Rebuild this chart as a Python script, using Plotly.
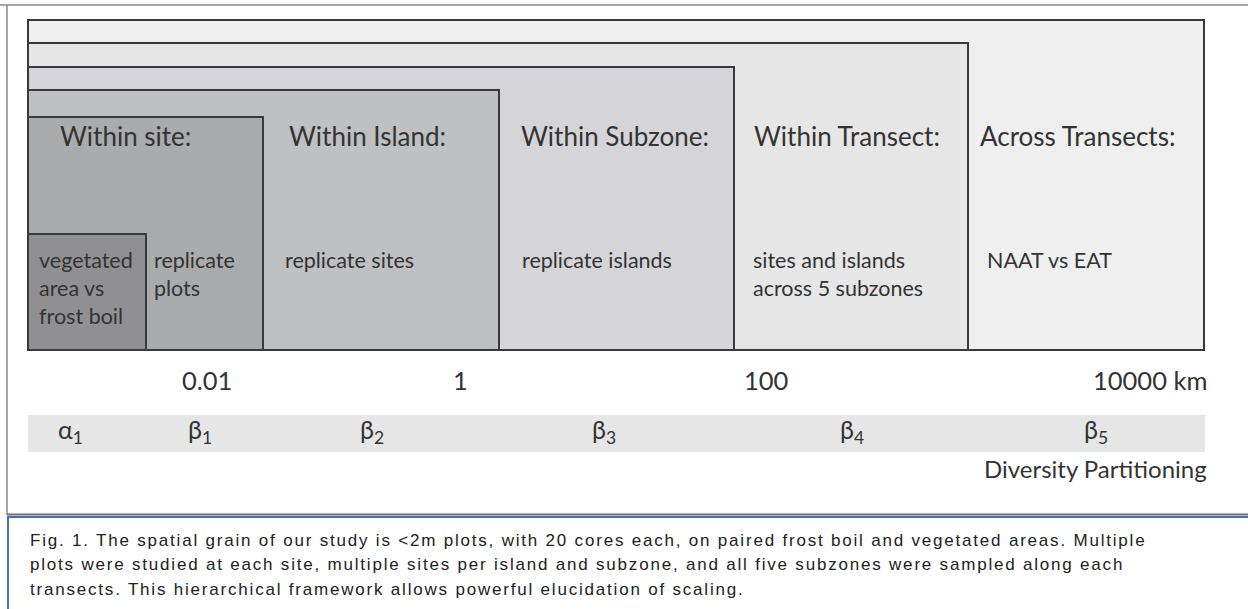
import plotly.graph_objects as go

# ---------------- data ----------------
level_titles = ["Within site:", "Within Island:", "Within Subzone:", "Within Transect:", "Across Transects:"]
level_descs = ["replicate<br>plots", "replicate sites", "replicate islands",
               "sites and islands<br>across 5 subzones", "NAAT vs EAT"]
inner_desc = "vegetated<br>area vs<br>frost boil"
scale_labels = ["0.01", "1", "100", "10000 km"]
partition_labels = ["α<sub>1</sub>", "β<sub>1</sub>", "β<sub>2</sub>", "β<sub>3</sub>", "β<sub>4</sub>", "β<sub>5</sub>"]
partition_title = "Diversity Partitioning"
caption_lines = [
    "Fig. 1. The spatial grain of our study is <2m plots, with 20 cores each, on paired frost boil and vegetated areas. Multiple",
    "plots were studied at each site, multiple sites per island and subzone, and all five subzones were sampled along each",
    "transects. This hierarchical framework allows powerful elucidation of scaling.",
]

# ---------------- layout geometry (diagram coordinates, pixels) ----------------
W, H = 1248, 609
box_left, box_bottom = 28, 350
# nested boxes from innermost (vegetated) to outermost (across transects)
box_right = [146, 263, 499, 734, 968, 1204]
box_top = [234, 117, 90, 67, 43, 20]
box_fill = ["#909092", "#a9abac", "#bfc0c2", "#d5d5d9", "#e6e6e6", "#efefef"]
title_x = [58, 287, 519, 752, 978]
desc_x = [152, 283, 520, 751, 985]
scale_x = [207, 460, 766, 1209]
part_x = [70, 200, 372, 604, 852, 1096]

FONT = "Lato"
TXT = "#333333"

fig = go.Figure()
shapes = []
annotations = []

# outer frame
shapes.append(dict(type="line", x0=0, x1=W, y0=5, y1=5, line=dict(color="#8a8a8a", width=1.5)))
shapes.append(dict(type="line", x0=7, x1=7, y0=5, y1=515, line=dict(color="#8a8a8a", width=1.5)))
shapes.append(dict(type="line", x0=7, x1=W, y0=514.5, y1=514.5, line=dict(color="#6f6f6f", width=2)))
shapes.append(dict(type="line", x0=7, x1=W, y0=517, y1=517, line=dict(color="#4a6cc0", width=2)))
shapes.append(dict(type="line", x0=8, x1=8, y0=517, y1=H, line=dict(color="#4a6cc0", width=2)))

# nested boxes, draw outermost first
for i in reversed(range(len(box_right))):
    shapes.append(dict(type="rect", x0=box_left, x1=box_right[i], y0=box_top[i], y1=box_bottom,
                       fillcolor=box_fill[i], line=dict(color="#3a3a3a", width=2), layer="above"))

# partition band
shapes.append(dict(type="rect", x0=box_left, x1=1205, y0=415, y1=452,
                   fillcolor="#e6e6e6", line=dict(width=0), layer="above"))

for t, x in zip(level_titles, title_x):
    annotations.append(dict(x=x, y=136, text=t, xanchor="left", yanchor="middle", showarrow=False,
                            font=dict(family=FONT, size=26, color=TXT)))
for t, x in zip(level_descs, desc_x):
    annotations.append(dict(x=x, y=245, text=t, xanchor="left", yanchor="top", showarrow=False, align="left",
                            font=dict(family=FONT, size=21.5, color=TXT)))
annotations.append(dict(x=37, y=245, text=inner_desc, xanchor="left", yanchor="top", showarrow=False, align="left",
                        font=dict(family=FONT, size=21.5, color=TXT)))

for i, (t, x) in enumerate(zip(scale_labels, scale_x)):
    annotations.append(dict(x=x, y=380, text=t, xanchor="right" if i == len(scale_labels) - 1 else "center",
                            yanchor="middle", showarrow=False, font=dict(family=FONT, size=25.5, color=TXT)))

for t, x in zip(partition_labels, part_x):
    annotations.append(dict(x=x, y=431, text=t, xanchor="center", yanchor="middle", showarrow=False,
                            font=dict(family=FONT, size=25, color=TXT)))
annotations.append(dict(x=1209, y=468, text=partition_title, xanchor="right", yanchor="middle", showarrow=False,
                        font=dict(family=FONT, size=24, color=TXT)))

for k, line in enumerate(caption_lines):
    annotations.append(dict(x=28, y=540 + 24.5 * k, text=line, xanchor="left", yanchor="middle", showarrow=False,
                            align="left", font=dict(family="Liberation Sans", size=17, color="#222222")))

fig.update_layout(
    width=W, height=H, margin=dict(l=0, r=0, t=0, b=0),
    paper_bgcolor="white", plot_bgcolor="white",
    xaxis=dict(range=[0, W], visible=False, fixedrange=True),
    yaxis=dict(range=[H, 0], visible=False, fixedrange=True),
    shapes=shapes, annotations=annotations, showlegend=False,
)

post = """
document.body.style.margin = '0';
document.querySelectorAll('text.annotation-text').forEach(function (el) {
  if ((el.getAttribute('style') || '').indexOf('Liberation') >= 0) { el.style.letterSpacing = '1.8px'; }
});
"""
fig.write_html("out.html", config={"displayModeBar": False}, post_script=post)
